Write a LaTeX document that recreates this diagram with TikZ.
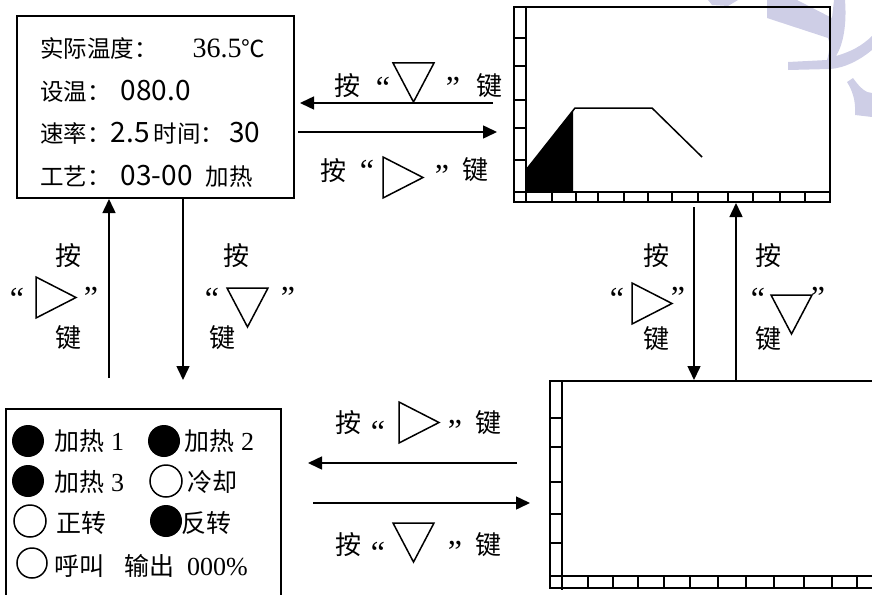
\documentclass[tikz,border=0pt]{standalone}
\usepackage{fontspec}
\setmainfont{Liberation Serif}
\newfontfamily\cjk{Noto Sans CJK SC}
\usetikzlibrary{arrows.meta,calc}
\definecolor{wmark}{RGB}{206,206,230}

\newcommand\numt[1]{{\rmfamily\fontsize{28}{30}\selectfont #1}} % serif digits, display
\newcommand\nums[1]{{\cjk\fontsize{28}{30}\selectfont #1}}      % plain digits, display
\newcommand\numb[1]{{\rmfamily\fontsize{26}{28}\selectfont #1}} % serif digits, lamps

\begin{document}
\begin{tikzpicture}[x=1pt, y=-1pt,
        screen/.style={draw, line width=2pt, inner sep=0pt},
        arr/.style={line width=1.5pt, -{Triangle[length=14pt,width=13pt]}},
        axline/.style={line width=2pt},
        axtick/.style={line width=1.5pt},
        disptext/.style={font=\cjk\fontsize{23.5}{26}\selectfont, inner sep=0pt, anchor=base west},
        lamptext/.style={font=\cjk\fontsize{25}{28}\selectfont, inner sep=0pt, anchor=base west},
        keych/.style={font=\cjk\fontsize{26}{28}\selectfont, inner sep=0pt, anchor=base, yshift=-9.6pt},
        qmark/.style={font=\rmfamily\fontsize{32}{34}\selectfont, inner sep=0pt, anchor=base, yshift=-18pt},
        rkey/.pic={\draw[line width=1.5pt] (0,0) -- (40,20.5) -- (0,41) -- cycle;},
        dkey/.pic={\draw[line width=1.5pt] (0,0) -- (41,0) -- (20.5,39) -- cycle;}
    ]

    \useasboundingbox (0,0) rectangle (872,594);

    % Watermark
    \fill[wmark] (708,0) -- (738,0) -- (728,6) -- (712,5) -- cycle;
    \fill[wmark] (767,0) -- (797,0) -- (832,18) -- (834,0) -- (845,0)
        .. controls (847,25) and (843,45) .. (836,56)
        .. controls (850,52) and (862,46) .. (872,36) -- (872,50)
        .. controls (860,60) and (845,68) .. (830,69) -- (788,70) -- (788,62) -- (827,60)
        .. controls (830,50) and (830,42) .. (828,38) -- (767,18) -- cycle;
    \fill[wmark] (847,82) -- (853,78) .. controls (860,88) and (866,93) .. (872,93)
        -- (872,117) -- (855,115) .. controls (856,100) and (852,90) .. (847,82) -- cycle;

    % Screens
    \node[screen, minimum width=277pt, minimum height=182pt] (main) at (155.5,107) {};
    \node[screen, minimum width=316pt, minimum height=195pt] (trend) at (672,104.5) {};
    \node[screen, minimum width=275pt, minimum height=201pt] (lamp) at (143.5,509.5) {};
    \node[screen, minimum width=330pt, minimum height=207pt] (blank) at (715,484.5) {};

    % Display screen
    \node[disptext] (l1) at (40,57) {实际温度：\hspace{35pt}\numt{36.5}℃};
    \node[disptext] (l2) at (40,100) {设温：\hspace{10pt}\nums{080.0}};
    \node[disptext] (l3) at (40,142) {速率：\nums{2.5}\hspace{4pt}时间：\hspace{5pt}\nums{30}};
    \node[disptext] (l4) at (40,185) {工艺：\hspace{10pt}\nums{03-00}\hspace{13pt}加热};

    % Trend screen
    \draw[axline] (526,7) -- (526,202);
    \draw[axline] (514,192) -- (830,192);
    \foreach \x in {552,576,598,624,648,672,698,728,753,780,805}
        \draw[axtick] (\x,192) -- (\x,202);
    \foreach \y in {38,66,100,128,160}
        \draw[axtick] (514,\y) -- (526,\y);
    \fill (526,192) -- (526,170) -- (573,110.5) -- (573,192) -- cycle;
    \draw[line width=1.5pt] (526,170) -- (575,108) -- (652,108) -- (702,157);

    % Blank screen
    \draw[axline] (562,381) -- (562,590);
    \draw[axline] (550,576) -- (880,576);
    \foreach \x in {588,613,638,664,690,718,746,774,804,832,857}
        \draw[axtick] (\x,576) -- (\x,588);
    \foreach \y in {418,447,482,514,543}
        \draw[axtick] (550,\y) -- (562,\y);

    % Lamp screen
    \foreach \cx/\cy in {28/441,164/441,28/481,166/521}
        \fill (\cx,\cy) circle[radius=16];
    \foreach \cx/\cy/\r in {166/481/16,30/521/16,32/563/15}
        \draw[line width=1.5pt] (\cx,\cy) circle[radius=\r];
    \node[lamptext] (h1) at (54,450) {加热\hspace{7pt}\numb{1}};
    \node[lamptext] (h2) at (184,450) {加热\hspace{7pt}\numb{2}};
    \node[lamptext] (h3) at (54,491) {加热\hspace{7pt}\numb{3}};
    \node[lamptext] (cool) at (187,491) {冷却};
    \node[lamptext] (fwd) at (56,532) {正转};
    \node[lamptext] (rev) at (181,532) {反转};
    \node[lamptext] (call) at (54,575) {呼叫};
    \node[lamptext] (out) at (124,575) {输出\hspace{13pt}\numb{000\%}};

    % Arrows
    \coordinate (tl0) at (493,103);
    \coordinate (tl1) at (300,103);
    \coordinate (tr0) at (298,132);
    \coordinate (tr1) at (497,132);
    \coordinate (bl0) at (517,463);
    \coordinate (bl1) at (308,463);
    \coordinate (br0) at (313,503);
    \coordinate (br1) at (530,503);
    \coordinate (ua) at (109,378);
    \coordinate (da) at (183,380);
    \coordinate (db) at (694,207);
    \coordinate (ub) at (736,380);
    \draw[arr] (tl0) -- (tl1);
    \draw[arr] (tr0) -- (tr1);
    \draw[arr] (bl0) -- (bl1);
    \draw[arr] (br0) -- (br1);
    \draw[arr] (ua) -- (ua |- main.south);
    \draw[arr] (da |- main.south) -- (da);
    \draw[arr] (db) -- (db |- blank.north);
    \draw[arr] (ub |- blank.north) -- (ub |- trend.south);

    % Key labels, top
    \node[keych] (an1) at (347,86) {按};
    \node[qmark] (lq1) at (383,80) {“};
    \pic at (393,63) {dkey};
    \node[qmark] (rq1) at (453,80) {”};
    \node[keych] (jian1) at (489,86) {键};

    \node[keych] (an2) at (333,171) {按};
    \node[qmark] (lq2) at (367,163) {“};
    \pic at (383,157) {rkey};
    \node[qmark] (rq2) at (442,168) {”};
    \node[keych] (jian2) at (475,170) {键};

    % Key labels, left
    \node[keych] (an3) at (68,256) {按};
    \node[qmark] (lq3) at (17,291) {“};
    \pic at (36,277) {rkey};
    \node[qmark] (rq3) at (91,290) {”};
    \node[keych] (jian3) at (68,338) {键};

    \node[keych] (an4) at (236,256) {按};
    \node[qmark] (lq4) at (212,291) {“};
    \pic at (227,288) {dkey};
    \node[qmark] (rq4) at (288,290) {”};
    \node[keych] (jian4) at (222,338) {键};

    % Key labels, right
    \node[keych] (an5) at (656,256) {按};
    \node[qmark] (lq5) at (617,291) {“};
    \pic at (632,283) {rkey};
    \node[qmark] (rq5) at (678,290) {”};
    \node[keych] (jian5) at (656,339) {键};

    \node[keych] (an6) at (768,256) {按};
    \node[qmark] (lq6) at (758,291) {“};
    \pic at (771,295) {dkey};
    \node[qmark] (rq6) at (818,290) {”};
    \node[keych] (jian6) at (768,339) {键};

    % Key labels, bottom
    \node[keych] (an7) at (348,423) {按};
    \node[qmark] (lq7) at (378,424) {“};
    \pic at (399,402) {rkey};
    \node[qmark] (rq7) at (455,423) {”};
    \node[keych] (jian7) at (488,423) {键};

    \node[keych] (an8) at (348,545) {按};
    \node[qmark] (lq8) at (378,545) {“};
    \pic at (393,523) {dkey};
    \node[qmark] (rq8) at (455,544) {”};
    \node[keych] (jian8) at (488,545) {键};

\end{tikzpicture}
\end{document}
